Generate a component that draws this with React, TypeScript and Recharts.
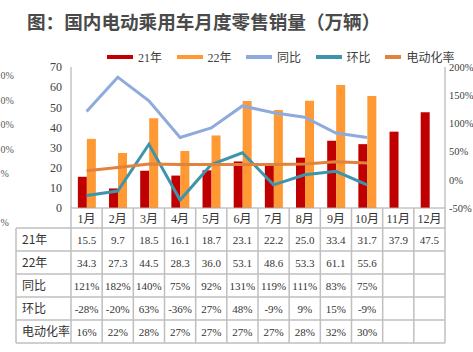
import React from 'react';
import { ComposedChart, Bar, Line, XAxis, YAxis } from 'recharts';

const months = ['1月', '2月', '3月', '4月', '5月', '6月', '7月', '8月', '9月', '10月', '11月', '12月'];
const sales21 = [15.5, 9.7, 18.5, 16.1, 18.7, 23.1, 22.2, 25.0, 33.4, 31.7, 37.9, 47.5];
const sales22 = [34.3, 27.3, 44.5, 28.3, 36.0, 53.1, 48.6, 53.3, 61.1, 55.6, null, null];
const yoy = [121, 182, 140, 75, 92, 131, 119, 111, 83, 75, null, null];
const mom = [-28, -20, 63, -36, 27, 48, -9, 9, 15, -9, null, null];
const evRate = [16, 22, 28, 27, 27, 27, 27, 28, 32, 30, null, null];

const leftTicks = [0, 10, 20, 30, 40, 50, 60, 70];
const rightTicks = [-50, 0, 50, 100, 150, 200];
const ghostTicks = ['0%', '0%', '0%', '0%', '%', '', '%'];

const series = [
  { key: 'y21', name: '21年', color: '#C00000' },
  { key: 'y22', name: '22年', color: '#FF9933' },
  { key: 'yoy', name: '同比', color: '#8FAADC' },
  { key: 'mom', name: '环比', color: '#3E95AB' },
  { key: 'ev', name: '电动化率', color: '#E0833F' },
];

const data = months.map((m, i) => ({
  month: m,
  y21: sales21[i],
  y22: sales22[i],
  yoy: yoy[i],
  mom: mom[i],
  ev: evRate[i],
}));

const fmtNum = (v: number | null) => (v == null ? '' : v.toFixed(1));
const fmtPct = (v: number | null) => (v == null ? '' : `${v}%`);

const tableRows = [
  { label: '21年', values: sales21, fmt: fmtNum },
  { label: '22年', values: sales22, fmt: fmtNum },
  { label: '同比', values: yoy, fmt: fmtPct },
  { label: '环比', values: mom, fmt: fmtPct },
  { label: '电动化率', values: evRate, fmt: fmtPct },
];

const W = 473;
const H = 352;
const PLOT_LEFT = 71;
const PLOT_RIGHT = 445;
const BAND = (PLOT_RIGHT - PLOT_LEFT) / months.length;
const TABLE_LEFT = 16;
const HEADER_H = 20;
const ROW_H = 23;
const GRID = '#BFBFBF';
const SERIF = '"Liberation Serif", "Noto Sans CJK SC", serif';
const SANS = '"Noto Sans CJK SC", "Noto Sans", sans-serif';

// x axis tick that draws its own column of the data table underneath
const TableTick = (props: any) => {
  const { x, y, payload } = props;
  const i = payload.index;
  const top = y;
  const bodyTop = top + HEADER_H;
  const bottom = bodyTop + ROW_H * tableRows.length;
  const right = x + BAND / 2;
  const left = x - BAND / 2;
  return (
    <g>
      {i === 0 && (
        <g>
          <line x1={TABLE_LEFT} x2={TABLE_LEFT} y1={bodyTop} y2={bottom} stroke={GRID} strokeWidth={1.5} />
          <line x1={left} x2={left} y1={top} y2={bottom} stroke={GRID} strokeWidth={1.5} />
          {tableRows.map((r, k) => (
            <g key={r.label}>
              <line x1={TABLE_LEFT} x2={PLOT_RIGHT} y1={bodyTop + k * ROW_H} y2={bodyTop + k * ROW_H} stroke={GRID} strokeWidth={1.5} />
              <text x={TABLE_LEFT + 6} y={bodyTop + k * ROW_H + ROW_H / 2 + 4.5} fontSize={12} fontFamily={SANS} fill="#333">
                {r.label}
              </text>
            </g>
          ))}
          <line x1={TABLE_LEFT} x2={PLOT_RIGHT} y1={bottom} y2={bottom} stroke={GRID} strokeWidth={1.5} />
        </g>
      )}
      <line x1={right} x2={right} y1={top} y2={bottom} stroke={GRID} strokeWidth={1.5} />
      <text x={x} y={top + HEADER_H / 2 + 4.5} textAnchor="middle" fontSize={12} fontFamily={SERIF} fill="#333">
        {payload.value}
      </text>
      {tableRows.map((r, k) => (
        <text
          key={r.label}
          x={x}
          y={bodyTop + k * ROW_H + ROW_H / 2 + 4}
          textAnchor="middle"
          fontSize={11}
          fontFamily={SERIF}
          fill="#333"
        >
          {r.fmt(r.values[i])}
        </text>
      ))}
    </g>
  );
};

export default function App() {
  return (
    <div style={{ position: 'relative', width: W, height: H, background: '#fff', overflow: 'hidden' }}>
      <style>{'body{margin:0}'}</style>
      <ComposedChart
        width={W}
        height={H}
        data={data}
        margin={{ top: 67, right: 0, bottom: 0, left: 0 }}
        barCategoryGap="22%"
        barGap={0}
      >
        <XAxis
          dataKey="month"
          height={144}
          interval={0}
          tickLine={false}
          tickSize={0}
          tickMargin={0}
          axisLine={{ stroke: '#A6A6A6' }}
          tick={<TableTick />}
        />
        <YAxis
          yAxisId="left"
          width={71}
          domain={[0, 70]}
          ticks={leftTicks}
          interval={0}
          tickLine={false}
          tickSize={0}
          tickMargin={9}
          axisLine={{ stroke: '#A6A6A6' }}
          tick={{ fill: '#404040', fontSize: 12, fontFamily: SERIF }}
        />
        <YAxis
          yAxisId="right"
          orientation="right"
          width={28}
          domain={[-50, 200]}
          ticks={rightTicks}
          interval={0}
          tickLine={false}
          tickSize={0}
          tickMargin={4}
          axisLine={{ stroke: '#A6A6A6' }}
          tickFormatter={(v: number) => `${v}%`}
          tick={{ fill: '#404040', fontSize: 10.5, fontFamily: SERIF, textAnchor: 'start' }}
        />
        <Bar yAxisId="left" dataKey="y21" name="21年" fill={series[0].color} isAnimationActive={false} />
        <Bar yAxisId="left" dataKey="y22" name="22年" fill={series[1].color} isAnimationActive={false} />
        <Line yAxisId="right" type="linear" dataKey="yoy" name="同比" stroke={series[2].color} strokeWidth={3} dot={false} isAnimationActive={false} />
        <Line yAxisId="right" type="linear" dataKey="mom" name="环比" stroke={series[3].color} strokeWidth={3} dot={false} isAnimationActive={false} />
        <Line yAxisId="right" type="linear" dataKey="ev" name="电动化率" stroke={series[4].color} strokeWidth={3} dot={false} isAnimationActive={false} />
      </ComposedChart>
      <div style={{ position: 'absolute', top: 49, left: 107, display: 'flex', height: 16 }}>
        {series.map((s) => (
          <div key={s.key} style={{ display: 'flex', alignItems: 'center', width: 69.5 }}>
            <div style={{ width: 26, height: 4, background: s.color, marginRight: 5 }} />
            <span style={{ fontSize: 12, fontFamily: SERIF, color: '#404040', whiteSpace: 'nowrap' }}>{s.name}</span>
          </div>
        ))}
      </div>
      <svg width={W} height={H} style={{ position: 'absolute', top: 0, left: 0, pointerEvents: 'none' }}>
        <text x={27} y={29} fontSize={18.6} fontWeight="bold" fontFamily={SANS} fill="#4A4A4A">
          图：国内电动乘用车月度零售销量（万辆）
        </text>
        {ghostTicks.map((t, k) => (
          <text key={k} x={0.5} y={79 + k * 24.5} fontSize={10} fontFamily={SERIF} fill="#595959">
            {t}
          </text>
        ))}
      </svg>
    </div>
  );
}
